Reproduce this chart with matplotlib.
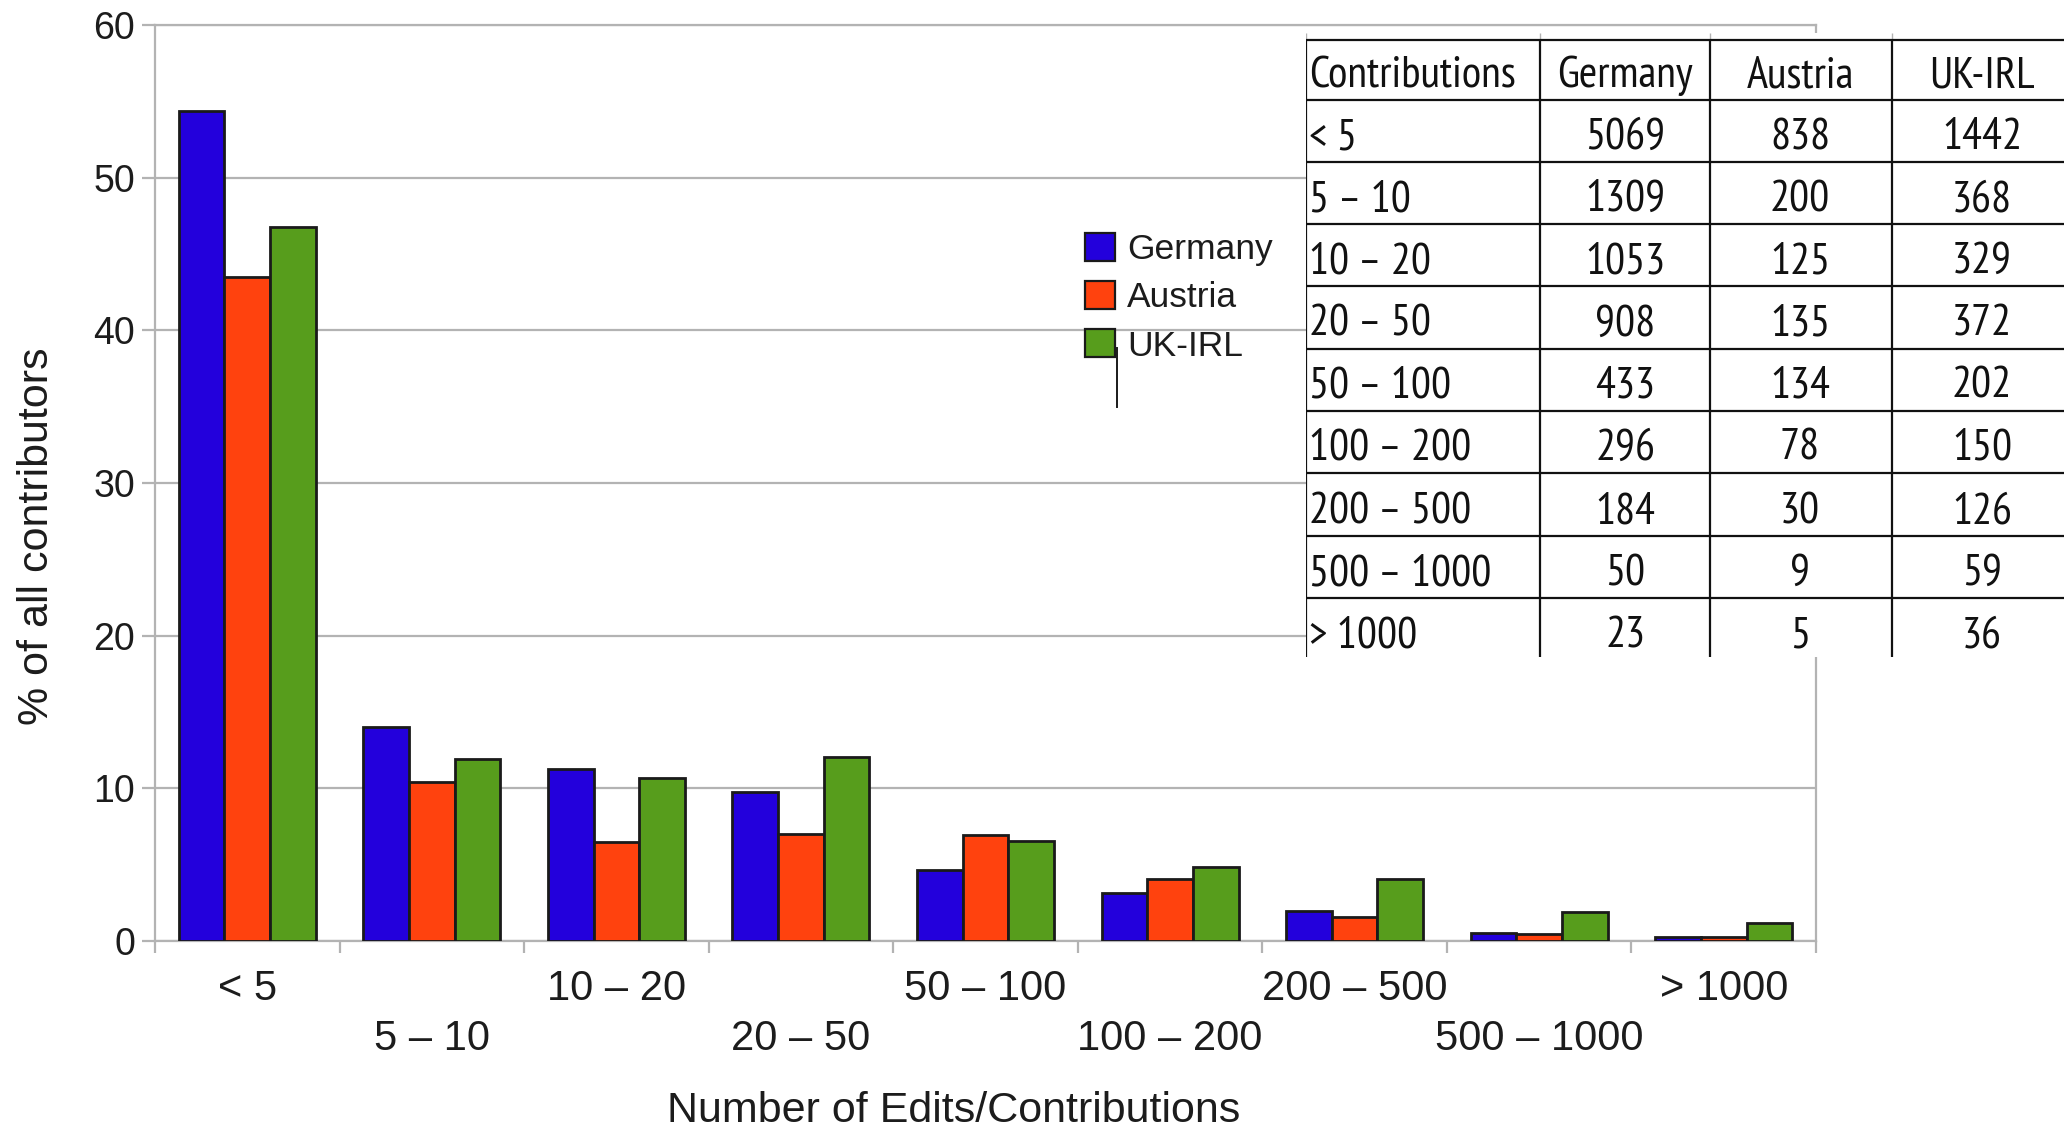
import matplotlib
matplotlib.use("Agg")
import matplotlib.pyplot as plt
import numpy as np
from matplotlib import font_manager
from matplotlib.font_manager import FontProperties
from matplotlib.patches import Patch, Rectangle
from matplotlib.lines import Line2D

# contribution buckets and share of contributors (%)
categories = ["< 5", "5 – 10", "10 – 20", "20 – 50", "50 – 100",
              "100 – 200", "200 – 500", "500 – 1000", "> 1000"]
countries = ["Germany", "Austria", "UK-IRL"]
germany_pct = [54.36, 14.04, 11.29, 9.74, 4.64, 3.17, 1.97, 0.54, 0.25]
austria_pct = [43.5, 10.4, 6.5, 7.0, 6.96, 4.05, 1.56, 0.47, 0.26]
ukirl_pct = [46.76, 11.93, 10.67, 12.06, 6.55, 4.86, 4.09, 1.91, 1.17]

# counts shown in the table
germany_n = [5069, 1309, 1053, 908, 433, 296, 184, 50, 23]
austria_n = [838, 200, 125, 135, 134, 78, 30, 9, 5]
ukirl_n = [1442, 368, 329, 372, 202, 150, 126, 59, 36]

colors = ["#2300dc", "#ff420e", "#579d1c"]
grey = "#b3b3b3"
ink = "#1c1c1c"

W, H = 2064, 1127
plt.rcParams["font.family"] = ["Liberation Sans", "DejaVu Sans"]


def narrow_font():
    # the table uses a condensed face; take one if the system has it
    for f in font_manager.fontManager.ttflist:
        if "Narrow" in f.name and "Sans" in f.name and f.style == "normal" \
                and f.weight in (400, "normal", "regular"):
            return FontProperties(fname=f.fname, size=32)
    for f in font_manager.fontManager.ttflist:
        if f.name in ("DejaVu Sans", "Roboto", "Open Sans", "Noto Sans") \
                and "condensed" in str(f.stretch) and f.style == "normal" \
                and f.weight in (400, "normal", "regular"):
            return FontProperties(fname=f.fname, size=30)
    return FontProperties(family=["Liberation Sans", "DejaVu Sans"], size=27.5)


tfont = narrow_font()

fig = plt.figure(figsize=(W / 100, H / 100), dpi=100)
ax = fig.add_axes([155 / W, 1 - 941 / H, 1661 / W, 916 / H])

x = np.arange(len(categories))
bw = 0.2475
for i, (name, vals) in enumerate(zip(countries, [germany_pct, austria_pct, ukirl_pct])):
    ax.bar(x + (i - 1) * bw, vals, width=bw, color=colors[i],
           edgecolor="#1a1a1a", linewidth=2.0, zorder=3)

ax.set_xlim(-0.5, len(categories) - 0.5)
ax.set_ylim(0, 60)
ax.set_yticks(range(0, 61, 10))
ax.yaxis.grid(True, color=grey, lw=1.6)
ax.set_axisbelow(True)
for s in ax.spines.values():
    s.set_color(grey)
    s.set_linewidth(1.6)

ax.set_xticks(np.arange(-0.5, len(categories), 1))
ax.set_xticklabels([])
ax.tick_params(axis="x", length=8.6, width=1.6, color=grey)
ax.tick_params(axis="y", length=9.4, width=1.6, color=grey, pad=5,
               labelsize=27, labelcolor=ink)

# staggered category labels
for i, lab in enumerate(categories):
    off = -42.5 if i % 2 == 0 else -78.5
    ax.annotate(lab, xy=(i, 0), xycoords=ax.get_xaxis_transform(),
                xytext=(0, off), textcoords="offset points",
                ha="center", va="baseline", fontsize=30, color=ink)

ax.set_xlabel("Number of Edits/Contributions", fontsize=31, color=ink, va="baseline")
ax.xaxis.set_label_coords((954 - 155) / 1661, (941 - 1122) / 916)
ax.set_ylabel("% of all contributors", fontsize=31, color=ink, va="baseline")
ax.yaxis.set_label_coords((48 - 155) / 1661, (941 - 536) / 916)

handles = [Patch(facecolor=c, edgecolor="#1a1a1a", linewidth=1.6) for c in colors]
ax.legend(handles, countries, loc="upper left",
          bbox_to_anchor=(1085 / W, 1 - 233 / H), bbox_transform=fig.transFigure,
          frameon=False, fontsize=25.5, handlelength=0.84, handleheight=0.84,
          handletextpad=0.35, labelspacing=0.42, borderpad=0, borderaxespad=0,
          labelcolor=ink)

# stray tick under the legend
fig.add_artist(Line2D([1117 / W, 1117 / W], [1 - 348 / H, 1 - 407 / H],
                      color="#1a1a1a", lw=1.4))

# table pasted over the top right corner
tax = fig.add_axes([1306 / W, 1 - 657 / H, (W - 1306) / W, (657 - 33) / H])
tax.set_xlim(1306, W)
tax.set_ylim(657, 33)
tax.axis("off")
tax.add_patch(Rectangle((1306, 33), W - 1306, 624, facecolor="white",
                        edgecolor="none", zorder=0))

col_lines = [1306, 1540, 1710, 1892]
col_centers = [1625, 1800, 1982]
row_lines = [40, 100, 162, 224, 286, 349, 411, 473, 536, 598]
row_bottoms = row_lines[1:] + [660]

tax.vlines(col_lines, 33, 40, color=grey, lw=1.0, zorder=1)
tax.vlines(col_lines, 40, 657, color="#111111", lw=1.6, zorder=2)
tax.hlines(row_lines, 1306, W, color="#111111", lw=1.6, zorder=2)

header = ["Contributions"] + countries
tax.text(1309, row_bottoms[0] - 13, header[0], fontproperties=tfont,
         color="#111111", ha="left", va="baseline")
for j, h in enumerate(header[1:]):
    tax.text(col_centers[j], row_bottoms[0] - 13, h, fontproperties=tfont,
             color="#111111", ha="center", va="baseline")

for r, cat in enumerate(categories):
    yb = row_bottoms[r + 1] - 13
    tax.text(1309, yb, cat, fontproperties=tfont, color="#111111",
             ha="left", va="baseline")
    for j, col in enumerate([germany_n, austria_n, ukirl_n]):
        tax.text(col_centers[j], yb, str(col[r]), fontproperties=tfont,
                 color="#111111", ha="center", va="baseline")

fig.savefig("out.png", dpi=100)
